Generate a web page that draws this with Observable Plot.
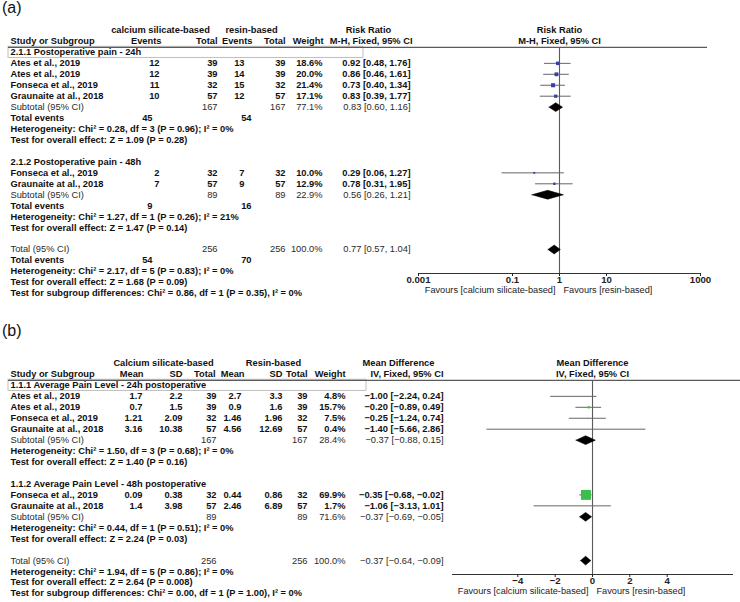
<!DOCTYPE html>
<html><head><meta charset="utf-8">
<script src="https://cdn.jsdelivr.net/npm/d3@7"></script>
<script src="https://cdn.jsdelivr.net/npm/@observablehq/plot@0.6"></script>
<style>
body{margin:0;background:#fff;}
#root{position:relative;width:740px;height:602px;overflow:hidden;font-family:"Liberation Sans",Arial,sans-serif;}
.layer{position:absolute;left:0;}
.tag{position:absolute;left:2px;font-size:16px;line-height:16px;color:#111;}
svg g[aria-label="x-axis tick label"] text{font-weight:bold;}
</style></head><body>
<div id="root">
  <div class="tag" style="top:0px">(a)</div>
  <div id="ta" class="layer" style="top:0"></div>
  <div id="fa" class="layer" style="top:0"></div>
  <div class="tag" style="top:323px">(b)</div>
  <div id="tb" class="layer" style="top:300px"></div>
  <div id="fb" class="layer" style="top:300px"></div>
</div>
<script>
// ================= Panel (a) data =================
const studyA = ["Ates et al., 2019","Ates et al., 2019","Fonseca et al., 2019","Graunaite at al., 2018","Fonseca et al., 2019","Graunaite at al., 2018"];
const subgroupOfA = [0,0,0,0,1,1];
const csEventsA = [12,12,11,10,2,7];
const csTotalA = [39,39,32,57,32,57];
const rsEventsA = [13,14,15,12,7,9];
const rsTotalA = [39,39,32,57,32,57];
const weightA = [18.6,20.0,21.4,17.1,10.0,12.9];
const rrA = [0.92,0.86,0.73,0.83,0.29,0.78];
const rrLowA = [0.48,0.46,0.40,0.39,0.06,0.31];
const rrHighA = [1.76,1.61,1.34,1.77,1.27,1.95];
const subgroupNamesA = ["2.1.1 Postoperative pain - 24h","2.1.2 Postoperative pain - 48h"];
const subCsTotalA = [167,89];
const subRsTotalA = [167,89];
const subWeightA = [77.1,22.9];
const subRrA = [0.83,0.56];
const subLowA = [0.60,0.26];
const subHighA = [1.16,1.21];
const subCsEventsA = [45,9];
const subRsEventsA = [54,16];
const subHetA = ["Heterogeneity: Chi² = 0.28, df = 3 (P = 0.96); I² = 0%","Heterogeneity: Chi² = 1.27, df = 1 (P = 0.26); I² = 21%"];
const subTestA = ["Test for overall effect: Z = 1.09 (P = 0.28)","Test for overall effect: Z = 1.47 (P = 0.14)"];
const totalCsA = 256, totalRsA = 256, totalWeightA = 100.0;
const totalRrA = 0.77, totalLowA = 0.57, totalHighA = 1.04;
const totalCsEventsA = 54, totalRsEventsA = 70;
const hetTotalA = "Heterogeneity: Chi² = 2.17, df = 5 (P = 0.83); I² = 0%";
const testTotalA = "Test for overall effect: Z = 1.68 (P = 0.09)";
const subDiffA = "Test for subgroup differences: Chi² = 0.86, df = 1 (P = 0.35), I² = 0%";
const ticksA = [0.001,0.1,1,10,1000];
const tickLabelsA = ["0.001","0.1","1","10","1000"];
const headersA = {g1:"calcium silicate-based", g2:"resin-based", eff:"Risk Ratio", study:"Study or Subgroup", ev:"Events", tot:"Total", wt:"Weight", method:"M-H, Fixed, 95% CI"};
const favoursA = ["Favours [calcium silicate-based]","Favours [resin-based]"];

// ================= Panel (b) data =================
const studyB = ["Ates et al., 2019","Ates et al., 2019","Fonseca et al., 2019","Graunaite at al., 2018","Fonseca et al., 2019","Graunaite at al., 2018"];
const subgroupOfB = [0,0,0,0,1,1];
const csMeanB = [1.7,0.7,1.21,3.16,0.09,1.4];
const csSdB = [2.2,1.5,2.09,10.38,0.38,3.98];
const csTotalB = [39,39,32,57,32,57];
const rsMeanB = [2.7,0.9,1.46,4.56,0.44,2.46];
const rsSdB = [3.3,1.6,1.96,12.69,0.86,6.89];
const rsTotalB = [39,39,32,57,32,57];
const weightB = [4.8,15.7,7.5,0.4,69.9,1.7];
const mdB = [-1.00,-0.20,-0.25,-1.40,-0.35,-1.06];
const mdLowB = [-2.24,-0.89,-1.24,-5.66,-0.68,-3.13];
const mdHighB = [0.24,0.49,0.74,2.86,-0.02,1.01];
const subgroupNamesB = ["1.1.1 Average Pain Level - 24h postoperative","1.1.2 Average Pain Level - 48h postoperative"];
const subCsTotalB = [167,89];
const subRsTotalB = [167,89];
const subWeightB = [28.4,71.6];
const subMdB = [-0.37,-0.37];
const subLowB = [-0.88,-0.69];
const subHighB = [0.15,-0.05];
const subHetB = ["Heterogeneity: Chi² = 1.50, df = 3 (P = 0.68); I² = 0%","Heterogeneity: Chi² = 0.44, df = 1 (P = 0.51); I² = 0%"];
const subTestB = ["Test for overall effect: Z = 1.40 (P = 0.16)","Test for overall effect: Z = 2.24 (P = 0.03)"];
const totalCsB = 256, totalRsB = 256, totalWeightB = 100.0;
const totalMdB = -0.37, totalLowB = -0.64, totalHighB = -0.09;
const hetTotalB = "Heterogeneity: Chi² = 1.94, df = 5 (P = 0.86); I² = 0%";
const testTotalB = "Test for overall effect: Z = 2.64 (P = 0.008)";
const subDiffB = "Test for subgroup differences: Chi² = 0.00, df = 1 (P = 1.00), I² = 0%";
const ticksB = [-4,-2,0,2,4];
const tickLabelsB = ["−4","−2","0","2","4"];
const headersB = {g1:"Calcium silicate-based", g2:"Resin-based", eff:"Mean Difference", study:"Study or Subgroup", mean:"Mean", sd:"SD", tot:"Total", wt:"Weight", method:"IV, Fixed, 95% CI"};
const favoursB = ["Favours [calcium silicate-based]","Favours [resin-based]"];

// ================= layout / style =================
const ROW = 10.95;
const FONT = "'Liberation Sans', Arial, sans-serif";
const FS = 9.3;
const BLUE = "#3441ab";
const GREEN = "#3cbe4b";
const LINE = "#5a5a5a";
const COLA = {label:10, csEv:159, csTot:217, rsEv:244, rsTot:285, wt:322, eff:410, totCs:152, totRs:251,
  hG1:160, hG2:251, hEff:368, hEv1:161, hTot1:217, hEv2:252, hTot2:285, hWt:323, hMethod:412, lineEnd:707, boxEnd:363};
const COLB = {label:10, csMean:142, csSd:182, csTot:216, rsMean:241, rsSd:282, rsTot:307, wt:345, eff:443,
  hG1:163, hG2:273, hEff:398, hMean1:143, hSd1:182, hTot1:215, hMean2:244, hSd2:282, hTot2:307, hWt:345, hMethod:443, lineEnd:740, boxEnd:366};

const f2 = v => v.toFixed(2);
const fs2 = v => (v < 0 ? "−" : "") + Math.abs(v).toFixed(2);
const pct = v => v.toFixed(1) + "%";
const cell = (row, x, text, anchor, style) => ({row, x, text: String(text), anchor, style});

function tableMarks(cells) {
  const marks = [];
  for (const anchor of ["start","middle","end"]) for (const st of ["h","b","n"]) {
    const sub = cells.filter(d => d.anchor === anchor && d.style === st);
    if (!sub.length) continue;
    marks.push(Plot.text(sub, {x:"x", y:"row", text:"text", textAnchor:anchor,
      fontWeight: st === "n" ? "normal" : "bold", fill: st === "n" ? "#2a2a2a" : "#111", fontSize: FS}));
  }
  return marks;
}

function diamondPoints(list) {
  const h = 0.4, pts = [];
  list.forEach((d, k) => {
    pts.push({x:d.lo, y:d.row, z:k},{x:d.est, y:d.row-h, z:k},{x:d.hi, y:d.row, z:k},{x:d.est, y:d.row+h, z:k},{x:d.lo, y:d.row, z:k});
  });
  return pts;
}

// ================= build panel (a) =================
function buildA() {
  const C = COLA, cells = [], studies = [], diamonds = [];
  cells.push(cell(0, C.hG1, headersA.g1, "middle", "h"));
  cells.push(cell(0, C.hG2, headersA.g2, "middle", "h"));
  cells.push(cell(0, C.hEff, headersA.eff, "middle", "h"));
  cells.push(cell(1, C.label, headersA.study, "start", "h"));
  cells.push(cell(1, C.hEv1, headersA.ev, "end", "h"));
  cells.push(cell(1, C.hTot1, headersA.tot, "end", "h"));
  cells.push(cell(1, C.hEv2, headersA.ev, "end", "h"));
  cells.push(cell(1, C.hTot2, headersA.tot, "end", "h"));
  cells.push(cell(1, C.hWt, headersA.wt, "end", "h"));
  cells.push(cell(1, C.hMethod, headersA.method, "end", "h"));
  let r = 2;
  subgroupNamesA.forEach((name, g) => {
    cells.push(cell(r, C.label, name, "start", "h")); r++;
    studyA.forEach((s, i) => {
      if (subgroupOfA[i] !== g) return;
      cells.push(cell(r, C.label, s, "start", "b"));
      cells.push(cell(r, C.csEv, csEventsA[i], "end", "b"));
      cells.push(cell(r, C.csTot, csTotalA[i], "end", "b"));
      cells.push(cell(r, C.rsEv, rsEventsA[i], "end", "b"));
      cells.push(cell(r, C.rsTot, rsTotalA[i], "end", "b"));
      cells.push(cell(r, C.wt, pct(weightA[i]), "end", "b"));
      cells.push(cell(r, C.eff, `${f2(rrA[i])} [${f2(rrLowA[i])}, ${f2(rrHighA[i])}]`, "end", "b"));
      studies.push({row:r, est:rrA[i], lo:rrLowA[i], hi:rrHighA[i], w:weightA[i]});
      r++;
    });
    cells.push(cell(r, C.label, "Subtotal (95% CI)", "start", "n"));
    cells.push(cell(r, C.csTot, subCsTotalA[g], "end", "n"));
    cells.push(cell(r, C.rsTot, subRsTotalA[g], "end", "n"));
    cells.push(cell(r, C.wt, pct(subWeightA[g]), "end", "n"));
    cells.push(cell(r, C.eff, `${f2(subRrA[g])} [${f2(subLowA[g])}, ${f2(subHighA[g])}]`, "end", "n"));
    diamonds.push({row:r, est:subRrA[g], lo:subLowA[g], hi:subHighA[g]});
    r++;
    cells.push(cell(r, C.label, "Total events", "start", "b"));
    cells.push(cell(r, C.totCs, subCsEventsA[g], "end", "b"));
    cells.push(cell(r, C.totRs, subRsEventsA[g], "end", "b"));
    r++;
    cells.push(cell(r, C.label, subHetA[g], "start", "b")); r++;
    cells.push(cell(r, C.label, subTestA[g], "start", "b")); r++;
    r++;
  });
  cells.push(cell(r, C.label, "Total (95% CI)", "start", "n"));
  cells.push(cell(r, C.csTot, totalCsA, "end", "n"));
  cells.push(cell(r, C.rsTot, totalRsA, "end", "n"));
  cells.push(cell(r, C.wt, pct(totalWeightA), "end", "n"));
  cells.push(cell(r, C.eff, `${f2(totalRrA)} [${f2(totalLowA)}, ${f2(totalHighA)}]`, "end", "n"));
  diamonds.push({row:r, est:totalRrA, lo:totalLowA, hi:totalHighA});
  r++;
  cells.push(cell(r, C.label, "Total events", "start", "b"));
  cells.push(cell(r, C.totCs, totalCsEventsA, "end", "b"));
  cells.push(cell(r, C.totRs, totalRsEventsA, "end", "b"));
  r++;
  cells.push(cell(r, C.label, hetTotalA, "start", "b")); r++;
  cells.push(cell(r, C.label, testTotalA, "start", "b")); r++;
  cells.push(cell(r, C.label, subDiffA, "start", "b"));
  return {cells, studies, diamonds, nRows: r + 1};
}

// ================= build panel (b) =================
function buildB() {
  const C = COLB, cells = [], studies = [], diamonds = [];
  cells.push(cell(0, C.hG1, headersB.g1, "middle", "h"));
  cells.push(cell(0, C.hG2, headersB.g2, "middle", "h"));
  cells.push(cell(0, C.hEff, headersB.eff, "middle", "h"));
  cells.push(cell(1, C.label, headersB.study, "start", "h"));
  cells.push(cell(1, C.hMean1, headersB.mean, "end", "h"));
  cells.push(cell(1, C.hSd1, headersB.sd, "end", "h"));
  cells.push(cell(1, C.hTot1, headersB.tot, "end", "h"));
  cells.push(cell(1, C.hMean2, headersB.mean, "end", "h"));
  cells.push(cell(1, C.hSd2, headersB.sd, "end", "h"));
  cells.push(cell(1, C.hTot2, headersB.tot, "end", "h"));
  cells.push(cell(1, C.hWt, headersB.wt, "end", "h"));
  cells.push(cell(1, C.hMethod, headersB.method, "end", "h"));
  let r = 2;
  subgroupNamesB.forEach((name, g) => {
    cells.push(cell(r, C.label, name, "start", "h")); r++;
    studyB.forEach((s, i) => {
      if (subgroupOfB[i] !== g) return;
      cells.push(cell(r, C.label, s, "start", "b"));
      cells.push(cell(r, C.csMean, csMeanB[i], "end", "b"));
      cells.push(cell(r, C.csSd, csSdB[i], "end", "b"));
      cells.push(cell(r, C.csTot, csTotalB[i], "end", "b"));
      cells.push(cell(r, C.rsMean, rsMeanB[i], "end", "b"));
      cells.push(cell(r, C.rsSd, rsSdB[i], "end", "b"));
      cells.push(cell(r, C.rsTot, rsTotalB[i], "end", "b"));
      cells.push(cell(r, C.wt, pct(weightB[i]), "end", "b"));
      cells.push(cell(r, C.eff, `${fs2(mdB[i])} [${fs2(mdLowB[i])}, ${fs2(mdHighB[i])}]`, "end", "b"));
      studies.push({row:r, est:mdB[i], lo:mdLowB[i], hi:mdHighB[i], w:weightB[i]});
      r++;
    });
    cells.push(cell(r, C.label, "Subtotal (95% CI)", "start", "n"));
    cells.push(cell(r, C.csTot, subCsTotalB[g], "end", "n"));
    cells.push(cell(r, C.rsTot, subRsTotalB[g], "end", "n"));
    cells.push(cell(r, C.wt, pct(subWeightB[g]), "end", "n"));
    cells.push(cell(r, C.eff, `${fs2(subMdB[g])} [${fs2(subLowB[g])}, ${fs2(subHighB[g])}]`, "end", "n"));
    diamonds.push({row:r, est:subMdB[g], lo:subLowB[g], hi:subHighB[g]});
    r++;
    cells.push(cell(r, C.label, subHetB[g], "start", "b")); r++;
    cells.push(cell(r, C.label, subTestB[g], "start", "b")); r++;
    r++;
  });
  cells.push(cell(r, C.label, "Total (95% CI)", "start", "n"));
  cells.push(cell(r, C.csTot, totalCsB, "end", "n"));
  cells.push(cell(r, C.rsTot, totalRsB, "end", "n"));
  cells.push(cell(r, C.wt, pct(totalWeightB), "end", "n"));
  cells.push(cell(r, C.eff, `${fs2(totalMdB)} [${fs2(totalLowB)}, ${fs2(totalHighB)}]`, "end", "n"));
  diamonds.push({row:r, est:totalMdB, lo:totalLowB, hi:totalHighB});
  r++;
  cells.push(cell(r, C.label, hetTotalB, "start", "b")); r++;
  cells.push(cell(r, C.label, testTotalB, "start", "b")); r++;
  cells.push(cell(r, C.label, subDiffB, "start", "b"));
  return {cells, studies, diamonds, nRows: r + 1};
}

function tablePlot(P, C, height, y0) {
  return Plot.plot({
    width: 740, height, margin: 0,
    x: {domain: [0, 740], range: [0, 740], axis: null},
    y: {domain: [0, P.nRows - 1], range: [y0, y0 + (P.nRows - 1) * ROW], axis: null},
    style: {background: "transparent", fontFamily: FONT, overflow: "visible"},
    marks: [
      Plot.rect([2], {x1: () => 8, x2: () => C.boxEnd, y1: d => d - 0.52, y2: d => d + 0.5, fill: "none", stroke: "#b0b0b0", strokeWidth: 0.8}),
      Plot.ruleY([1], {y: d => d, x1: () => 8, x2: () => C.lineEnd, dy: 6, stroke: LINE, strokeWidth: 1.2}),
      ...tableMarks(P.cells)
    ]
  });
}

function forestPlot(P, opts) {
  return Plot.plot({
    width: 740, height: opts.height,
    marginLeft: opts.left, marginRight: opts.right, marginTop: opts.top, marginBottom: opts.bottom,
    x: opts.x,
    y: {domain: [0, P.nRows - 1], range: [opts.y0, opts.y0 + (P.nRows - 1) * ROW], axis: null},
    r: {type: "linear", domain: [0, opts.wMax], range: [0, opts.rMax]},
    style: {background: "transparent", fontFamily: FONT, overflow: "visible", color: "#222"},
    marks: [
      Plot.ruleX([opts.nullValue], {stroke: LINE, strokeWidth: 1.1}),
      Plot.frame({anchor: "bottom", stroke: "#333"}),
      Plot.axisX({ticks: opts.ticks, tickFormat: d => opts.tickLabels[opts.ticks.indexOf(d)], tickSize: 3, tickPadding: 0, fontSize: 9.6, label: null}),
      Plot.ruleY(P.studies, {y: "row", x1: "lo", x2: "hi", stroke: "#666", strokeWidth: 1}),
      Plot.dot(P.studies, {x: "est", y: "row", r: "w", symbol: "square", fill: opts.color, stroke: null}),
      Plot.line(diamondPoints(P.diamonds), {x: "x", y: "y", z: "z", fill: "#000", stroke: "#000", strokeWidth: 0.6}),
      Plot.text([opts.header1, opts.header2], {x: () => opts.nullValue, y: (d, i) => i, text: d => d, fontWeight: "bold", fontSize: FS, fill: "#111"}),
      Plot.text([opts.favours[0]], {x: () => opts.nullValue, frameAnchor: "bottom", dy: 19.5, dx: -4, textAnchor: "end", text: d => d, fontSize: 9.2, fill: "#222"}),
      Plot.text([opts.favours[1]], {x: () => opts.nullValue, frameAnchor: "bottom", dy: 19.5, dx: 4, textAnchor: "start", text: d => d, fontSize: 9.2, fill: "#222"})
    ]
  });
}

const A = buildA();
const B = buildB();
document.getElementById("ta").append(tablePlot(A, COLA, 300, 30));
document.getElementById("fa").append(forestPlot(A, {
  height: 300, left: 418, right: 40, top: 47, bottom: 27, y0: 30,
  x: {type: "log", domain: [0.001, 1000]}, nullValue: 1, ticks: ticksA, tickLabels: tickLabelsA,
  wMax: 21.4, rMax: 2.3, color: BLUE, header1: headersA.eff, header2: headersA.method, favours: favoursA
}));
document.getElementById("tb").append(tablePlot(B, COLB, 302, 63));
document.getElementById("fb").append(forestPlot(B, {
  height: 302, left: 452, right: 8, top: 80, bottom: 28, y0: 63,
  x: {type: "linear", domain: [-7.5, 7.5]}, nullValue: 0, ticks: ticksB, tickLabels: tickLabelsB,
  wMax: 69.9, rMax: 5.6, color: GREEN, header1: headersB.eff, header2: headersB.method, favours: favoursB
}));
</script>
</body></html>
